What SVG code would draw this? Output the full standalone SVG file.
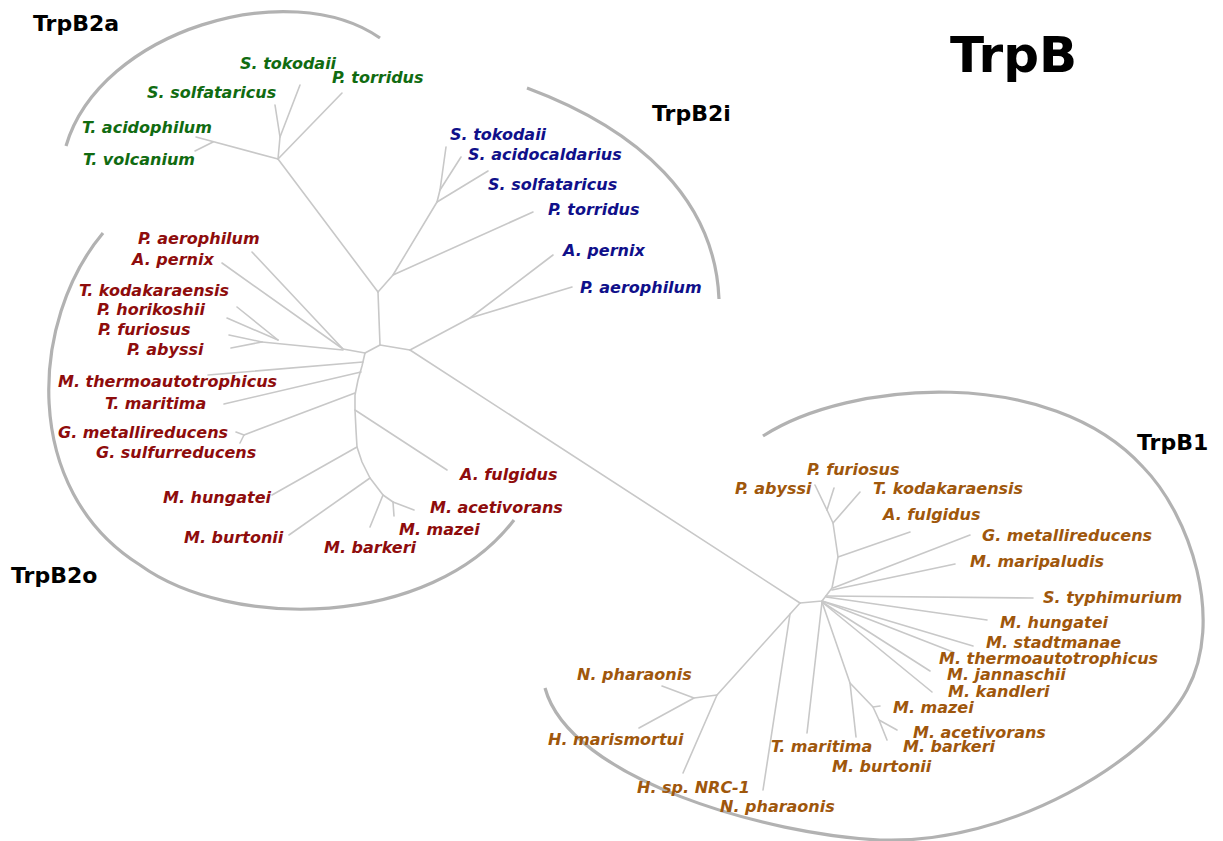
<svg xmlns="http://www.w3.org/2000/svg" width="1223" height="841" viewBox="0 0 1223 841">
<style>
.bg{fill:#ffffff}
.br{fill:none;stroke:#c8c8c8;stroke-width:1.6;stroke-linejoin:round;stroke-linecap:round}
.arc{fill:none;stroke:#b2b2b2;stroke-width:3.2;stroke-linecap:butt}
.lab{font-family:"DejaVu Sans",Verdana,sans-serif;font-size:16px;font-weight:bold;font-style:italic}
.g{fill:#116b11}
.b{fill:#10108a}
.r{fill:#8e0c0c}
.o{fill:#9f570c}
.grp{font-family:"DejaVu Sans",Verdana,sans-serif;font-size:22px;font-weight:bold;fill:#000}
.title{font-family:"DejaVu Sans",Verdana,sans-serif;font-size:50px;font-weight:bold;fill:#000}
</style>
<rect class="bg" x="0" y="0" width="1223" height="841"/>
<g id="arcs">
<path class="arc" d="M66,146 C100,30 290,-25 380,38"/>
<path class="arc" d="M527,88 C640,130 715,200 719,299"/>
<path class="arc" d="M103,233 C30,320 20,490 140,565 C230,630 430,630 514,520"/>
<path class="arc" d="M763,436 C850,380 1050,365 1143,467 C1190,515 1225,620 1187,690 C1149,760 1010,845 880,840 C770,835 570,780 545,688"/>
</g>
<g id="connectors">
<polyline class="br" points="380,345 365,353"/>
<polyline class="br" points="380,345 410,350"/>
<polyline class="br" points="380,345 378,292"/>
<polyline class="br" points="365,353 362,366 358,380 355,395 355,410 356,430 357,447 362,462 370,478 383,495 393,502"/>
<polyline class="br" points="252,252 343,349 365,353"/>
<polyline class="br" points="222,263 343,349"/>
<polyline class="br" points="262,342 343,350"/>
<polyline class="br" points="237,307 278,340"/>
<polyline class="br" points="227,318 278,340"/>
<polyline class="br" points="229,335 262,342"/>
<polyline class="br" points="231,348 262,342"/>
<polyline class="br" points="208,375 363,362"/>
<polyline class="br" points="224,404 361,372"/>
<polyline class="br" points="244,435 355,393"/>
<polyline class="br" points="244,435 236,432"/>
<polyline class="br" points="244,435 240,443"/>
<polyline class="br" points="355,410 447,470"/>
<polyline class="br" points="357,447 272,495"/>
<polyline class="br" points="370,478 289,535"/>
<polyline class="br" points="383,495 370,527"/>
<polyline class="br" points="393,502 394,516"/>
<polyline class="br" points="393,502 414,510"/>
<polyline class="br" points="378,292 278,159"/>
<polyline class="br" points="278,159 196,137"/>
<polyline class="br" points="213,142 195,151"/>
<polyline class="br" points="278,159 280,137 275,105"/>
<polyline class="br" points="280,137 300,85"/>
<polyline class="br" points="278,159 342,93"/>
<polyline class="br" points="378,292 393,275 437,202"/>
<polyline class="br" points="393,275 533,212"/>
<polyline class="br" points="437,202 440,190 446,147"/>
<polyline class="br" points="440,190 461,157"/>
<polyline class="br" points="437,202 488,171"/>
<polyline class="br" points="410,350 470,318 553,255"/>
<polyline class="br" points="470,318 572,287"/>
<polyline class="br" points="410,350 800,603"/>
<polyline class="br" points="800,603 822,601 832,588 838,557 833,523 827,510"/>
<polyline class="br" points="827,510 815,485"/>
<polyline class="br" points="827,510 834,488"/>
<polyline class="br" points="833,523 860,492"/>
<polyline class="br" points="838,557 910,532"/>
<polyline class="br" points="833,588 970,535"/>
<polyline class="br" points="832,590 955,564"/>
<polyline class="br" points="826,596 1033,598"/>
<polyline class="br" points="826,597 987,620"/>
<polyline class="br" points="822,601 973,646"/>
<polyline class="br" points="822,601 953,652"/>
<polyline class="br" points="822,602 930,671"/>
<polyline class="br" points="822,602 932,692"/>
<polyline class="br" points="822,602 850,683 873,707 879,720 887,740"/>
<polyline class="br" points="873,707 880,706"/>
<polyline class="br" points="879,720 897,730"/>
<polyline class="br" points="850,683 856,737"/>
<polyline class="br" points="822,602 807,733"/>
<polyline class="br" points="800,603 717,695 683,773"/>
<polyline class="br" points="790,614 763,790"/>
<polyline class="br" points="717,695 694,698 662,686"/>
<polyline class="br" points="694,698 639,728"/>
</g>
<g id="title"><text class="title" x="950" y="72">TrpB</text></g>
<g id="group-TrpB2a"><text class="grp" x="33" y="31">TrpB2a</text></g>
<g id="group-TrpB2i"><text class="grp" x="652" y="121">TrpB2i</text></g>
<g id="group-TrpB2o"><text class="grp" x="11" y="583">TrpB2o</text></g>
<g id="group-TrpB1"><text class="grp" x="1137" y="450">TrpB1</text></g>
<g id="b2a-s-tokodaii"><text class="lab g" x="240" y="69">S. tokodaii</text></g>
<g id="b2a-p-torridus"><text class="lab g" x="332" y="83">P. torridus</text></g>
<g id="b2a-s-solfataricus"><text class="lab g" x="147" y="98">S. solfataricus</text></g>
<g id="b2a-t-acidophilum"><text class="lab g" x="82" y="133">T. acidophilum</text></g>
<g id="b2a-t-volcanium"><text class="lab g" x="83" y="165">T. volcanium</text></g>
<g id="b2i-s-tokodaii"><text class="lab b" x="450" y="140">S. tokodaii</text></g>
<g id="b2i-s-acidocaldarius"><text class="lab b" x="468" y="160">S. acidocaldarius</text></g>
<g id="b2i-s-solfataricus"><text class="lab b" x="488" y="190">S. solfataricus</text></g>
<g id="b2i-p-torridus"><text class="lab b" x="548" y="215">P. torridus</text></g>
<g id="b2i-a-pernix"><text class="lab b" x="563" y="256">A. pernix</text></g>
<g id="b2i-p-aerophilum"><text class="lab b" x="580" y="293">P. aerophilum</text></g>
<g id="b2o-p-aerophilum"><text class="lab r" x="138" y="244">P. aerophilum</text></g>
<g id="b2o-a-pernix"><text class="lab r" x="132" y="265">A. pernix</text></g>
<g id="b2o-t-kodakaraensis"><text class="lab r" x="79" y="296">T. kodakaraensis</text></g>
<g id="b2o-p-horikoshii"><text class="lab r" x="97" y="315">P. horikoshii</text></g>
<g id="b2o-p-furiosus"><text class="lab r" x="98" y="335">P. furiosus</text></g>
<g id="b2o-p-abyssi"><text class="lab r" x="127" y="355">P. abyssi</text></g>
<g id="b2o-m-thermoautotrophicus"><text class="lab r" x="58" y="387">M. thermoautotrophicus</text></g>
<g id="b2o-t-maritima"><text class="lab r" x="105" y="409">T. maritima</text></g>
<g id="b2o-g-metallireducens"><text class="lab r" x="58" y="438">G. metallireducens</text></g>
<g id="b2o-g-sulfurreducens"><text class="lab r" x="96" y="458">G. sulfurreducens</text></g>
<g id="b2o-a-fulgidus"><text class="lab r" x="460" y="480">A. fulgidus</text></g>
<g id="b2o-m-hungatei"><text class="lab r" x="163" y="503">M. hungatei</text></g>
<g id="b2o-m-acetivorans"><text class="lab r" x="430" y="513">M. acetivorans</text></g>
<g id="b2o-m-mazei"><text class="lab r" x="399" y="535">M. mazei</text></g>
<g id="b2o-m-burtonii"><text class="lab r" x="184" y="543">M. burtonii</text></g>
<g id="b2o-m-barkeri"><text class="lab r" x="324" y="553">M. barkeri</text></g>
<g id="b1-p-furiosus"><text class="lab o" x="807" y="475">P. furiosus</text></g>
<g id="b1-p-abyssi"><text class="lab o" x="735" y="494">P. abyssi</text></g>
<g id="b1-t-kodakaraensis"><text class="lab o" x="873" y="494">T. kodakaraensis</text></g>
<g id="b1-a-fulgidus"><text class="lab o" x="883" y="520">A. fulgidus</text></g>
<g id="b1-g-metallireducens"><text class="lab o" x="982" y="541">G. metallireducens</text></g>
<g id="b1-m-maripaludis"><text class="lab o" x="970" y="567">M. maripaludis</text></g>
<g id="b1-s-typhimurium"><text class="lab o" x="1043" y="603">S. typhimurium</text></g>
<g id="b1-m-hungatei"><text class="lab o" x="1000" y="628">M. hungatei</text></g>
<g id="b1-m-stadtmanae"><text class="lab o" x="986" y="648">M. stadtmanae</text></g>
<g id="b1-m-thermoautotrophicus"><text class="lab o" x="939" y="664">M. thermoautotrophicus</text></g>
<g id="b1-m-jannaschii"><text class="lab o" x="947" y="680">M. jannaschii</text></g>
<g id="b1-m-kandleri"><text class="lab o" x="948" y="697">M. kandleri</text></g>
<g id="b1-m-mazei"><text class="lab o" x="893" y="713">M. mazei</text></g>
<g id="b1-m-acetivorans"><text class="lab o" x="913" y="738">M. acetivorans</text></g>
<g id="b1-m-barkeri"><text class="lab o" x="903" y="752">M. barkeri</text></g>
<g id="b1-t-maritima"><text class="lab o" x="771" y="752">T. maritima</text></g>
<g id="b1-m-burtonii"><text class="lab o" x="832" y="772">M. burtonii</text></g>
<g id="b1-n-pharaonis-1"><text class="lab o" x="577" y="680">N. pharaonis</text></g>
<g id="b1-h-marismortui"><text class="lab o" x="548" y="745">H. marismortui</text></g>
<g id="b1-h-sp-nrc-1"><text class="lab o" x="637" y="793">H. sp. NRC-1</text></g>
<g id="b1-n-pharaonis-2"><text class="lab o" x="720" y="812">N. pharaonis</text></g>
</svg>
